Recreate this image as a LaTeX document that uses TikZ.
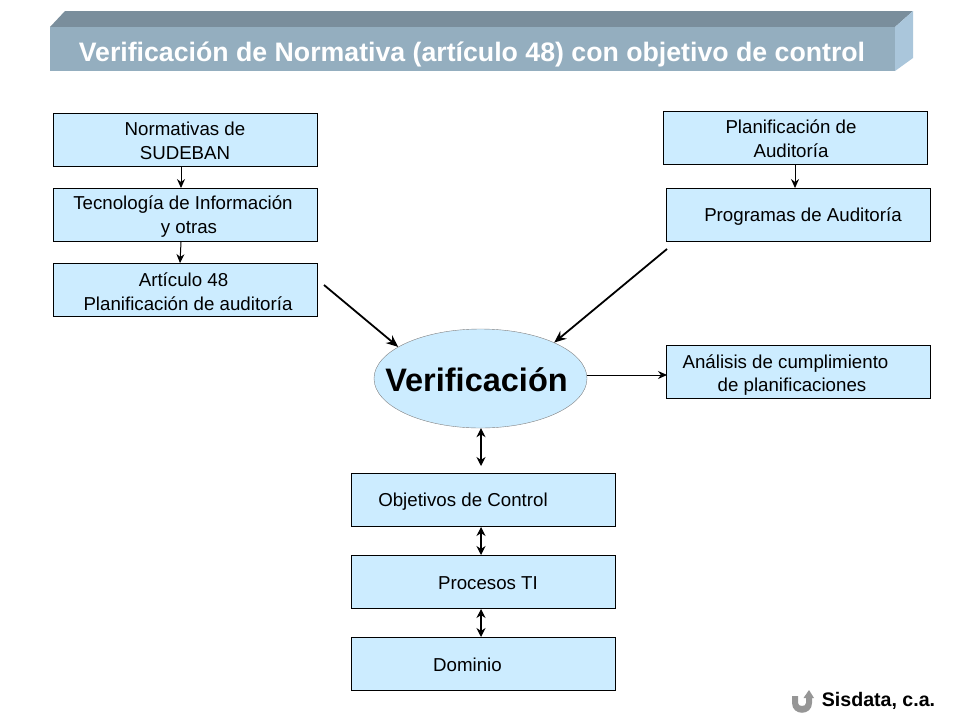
\documentclass[tikz,border=0pt]{standalone}
\usepackage{fontspec}
\setmainfont{Liberation Sans}
\usetikzlibrary{arrows.meta, positioning, shapes.geometric}
\definecolor{lightblue}{RGB}{204,236,255}
\definecolor{bandfront}{RGB}{148,174,191}
\definecolor{bandtop}{RGB}{122,142,156}
\definecolor{bandside}{RGB}{170,198,219}
\definecolor{icongray}{RGB}{150,150,150}
\tikzset{
  boxnode/.style={draw, fill=lightblue, line width=0.9pt, minimum width=264pt, minimum height=53pt, inner sep=0pt},
  boxtext/.style={font=\fontsize{18.7}{23.5}\selectfont, align=center, inner sep=0pt},
  flow/.style={-{Stealth[length=9pt,width=8pt]}, line width=1pt},
  flowbig/.style={-{Stealth[length=12pt,width=10pt]}, line width=1.8pt},
  flowboth/.style={{Stealth[length=9pt,width=9pt]}-{Stealth[length=9pt,width=9pt]}, line width=1.1pt}
}
\begin{document}
\begin{tikzpicture}[x=1pt, y=-1pt]
        \useasboundingbox (0,0) rectangle (960,720);
        % Title band
        \fill[bandtop] (50,27) -- (65,11) -- (913,11) -- (895,27) -- cycle;
        \fill[bandside] (895,27) -- (913,11) -- (913,58) -- (895,71) -- cycle;
        \fill[bandfront] (50,27) rectangle (895,71);
        \node[text=white, font=\fontsize{26.7}{30}\selectfont\bfseries, inner sep=0pt] (title) at (472,54) {Verificación de Normativa (artículo 48) con objetivo de control};

        % Left column
        \node[boxnode] (norm) at (185,139.5) {};
        \node[boxtext] (normtext) at (185,141) {Normativas de\\SUDEBAN};
        \node[boxnode] (tecn) at (185,215) {};
        \node[boxtext] (tecntext) at (189,216.5) {Tecnología de Información\kern12pt\\y otras};
        \node[boxnode] (art) at (185,290) {};
        \node[boxtext] (arttext) at (188,291.5) {Artículo 48\kern9pt\\Planificación de auditoría};

        % Right column
        \node[boxnode] (plan) at (795,137.5) {};
        \node[boxtext] (plantext) at (791,138.5) {Planificación de\\Auditoría};
        \node[boxnode] (prog) at (798,215) {};
        \node[boxtext] (progtext) at (803,216.5) {Programas de Auditoría};
        \node[boxnode] (anal) at (798,372) {};
        \node[boxtext] (analtext) at (792,375) {Análisis de cumplimiento\kern13pt\\de planificaciones};

        % Centre
        \node[ellipse, draw=gray, fill=lightblue, minimum width=213pt, minimum height=99pt, inner sep=0pt] (verif) at (480.5,378.5) {};
        \node[font=\fontsize{32.5}{38}\selectfont\bfseries, inner sep=0pt] (veriftext) at (476.5,379.5) {Verificación};
        \node[boxnode] (obj) at (483.5,499.5) {};
        \node[boxtext] (objtext) at (463,501.5) {Objetivos de Control};
        \node[boxnode] (proc) at (483.5,581.5) {};
        \node[boxtext] (proctext) at (488,583) {Procesos TI};
        \node[boxnode] (dom) at (483.5,664) {};
        \node[boxtext] (domtext) at (467.5,664.5) {Dominio};

        % Free ends
        \coordinate (artend) at (324,285);
        \coordinate (progend) at (667,249);
        \coordinate (analin) at (667,375);
        \coordinate (objtop) at (481,466);
        \coordinate (objbot) at (481,527);
        \coordinate (proctop) at (481,555);
        \coordinate (procbot) at (481,609);
        \coordinate (domtop) at (481,637);

        % Arrows
        \draw[flow] (norm.south -| 181,0) -- (tecn.north -| 181,0);
        \draw[flow] (tecn.south -| 181,0) -- (art.north -| 180,0);
        \draw[flow] (plan.south) -- (prog.north -| plan.south);
        \draw[flowbig] (artend) -- (verif.159);
        \draw[flowbig] (progend) -- (verif.26);
        \draw[flow] (verif.east |- analin) -- (analin);
        \draw[flowboth] (verif.south -| objtop) -- (objtop);
        \draw[flowboth] (objbot) -- (proctop);
        \draw[flowboth] (procbot) -- (domtop);

        % Footer
        \fill[icongray] (792,696) -- (798,696) -- (798,703) .. controls (798,707) and (806,707) .. (806,703) -- (806,698) -- (803.5,698) -- (809,690) -- (814,698) -- (812,698) -- (812,703) .. controls (812,716) and (792,716) .. (792,703) -- cycle;
        \node[font=\fontsize{19.6}{22}\selectfont\bfseries, inner sep=0pt] (sisdata) at (878.5,701) {Sisdata, c.a.};
    \end{tikzpicture}
\end{document}
